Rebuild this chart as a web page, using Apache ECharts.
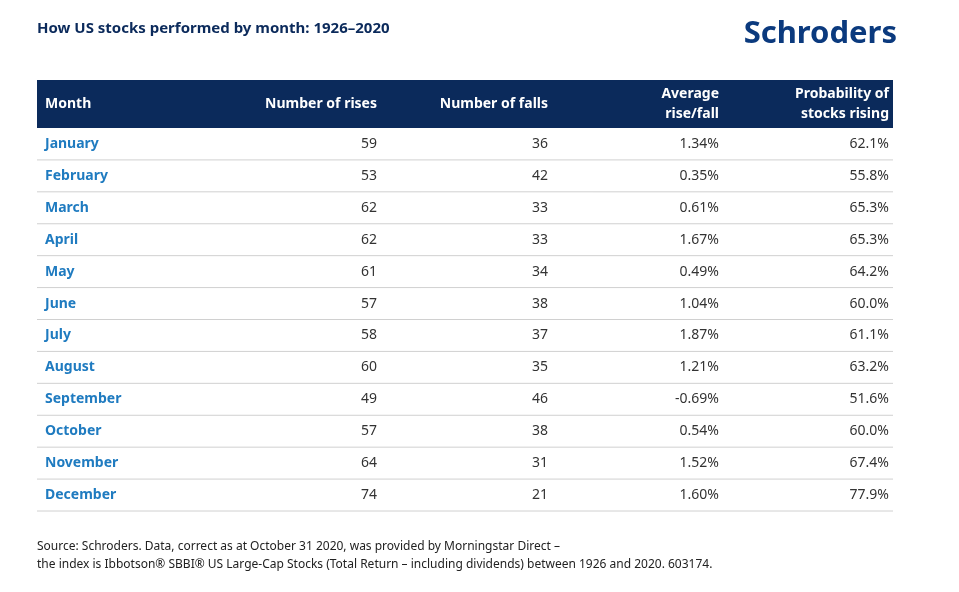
<!DOCTYPE html>
<html><head><meta charset="utf-8">
<script src="https://cdn.jsdelivr.net/npm/echarts@6/dist/echarts.min.js"></script>
<style>html,body{margin:0;background:#fff}#c{width:959px;height:592px}</style>
</head><body><div id="c"></div>
<script>
const months = ["January","February","March","April","May","June","July","August","September","October","November","December"];
const rises = [59,53,62,62,61,57,58,60,49,57,64,74];
const falls = [36,42,33,33,34,38,37,35,46,38,31,21];
const avgChange = ["1.34%","0.35%","0.61%","1.67%","0.49%","1.04%","1.87%","1.21%","-0.69%","0.54%","1.52%","1.60%"];
const probRising = ["62.1%","55.8%","65.3%","65.3%","64.2%","60.0%","61.1%","63.2%","51.6%","60.0%","67.4%","77.9%"];
const headers = ["Month","Number of rises","Number of falls","Average\nrise/fall","Probability of\nstocks rising"];

const F = "'Noto Sans','Open Sans',sans-serif";
const colRight = [340, 511, 682, 852]; // offsets from grid left for right-aligned cols
const chart = echarts.init(document.getElementById('c'));
chart.setOption({
  animation:false,
  grid:{left:37,right:66,top:128,bottom:81},
  xAxis:{type:'value',min:0,max:1,show:false},
  yAxis:{type:'category',data:months,inverse:true,show:false},
  graphic:[
    {type:'text',left:37,top:21,style:{text:'How US stocks performed by month: 1926–2020',font:'bold 15px '+F,fill:'#0b2a5b'}},
    {type:'text',right:62,top:19,style:{text:'Schroders',font:'bold 31px '+F,fill:'#0b3a7e'}},
    {type:'rect',shape:{x:37,y:80,width:856,height:48},style:{fill:'#0b2a5b'}},
    {type:'text',x:45,y:104,style:{text:headers[0],font:'bold 14px '+F,fill:'#fff',verticalAlign:'middle'}},
    ...headers.slice(1).map((h,i)=>({type:'text',x:37+colRight[i],y:104,style:{text:h,font:'bold 14px '+F,fill:'#fff',align:'right',verticalAlign:'middle',lineHeight:20}})),
    {type:'text',left:37,top:538,style:{text:'Source: Schroders. Data, correct as at October 31 2020, was provided by Morningstar Direct –\nthe index is Ibbotson® SBBI® US Large-Cap Stocks (Total Return – including dividends) between 1926 and 2020. 603174.',font:'12px '+F,fill:'#222',lineHeight:18}}
  ],
  series:[{
    type:'custom',
    data:months.map((m,i)=>[0,i]),
    renderItem:(params,api)=>{
      const i=api.value(1);
      const p=api.coord([0,i]);
      const band=api.size([0,1])[1];
      const cs=params.coordSys;
      const y=p[1];
      const vals=[rises[i],falls[i],avgChange[i],probRising[i]];
      const children=[
        {type:'text',x:cs.x+8,y:y,style:{text:months[i],font:'bold 14px '+F,fill:'#1f7bc0',verticalAlign:'middle'}},
        ...vals.map((v,k)=>({type:'text',x:cs.x+colRight[k],y:y,style:{text:String(v),font:'14px '+F,fill:'#333',align:'right',verticalAlign:'middle'}})),
        {type:'line',shape:{x1:cs.x,y1:y+band/2,x2:cs.x+cs.width,y2:y+band/2},style:{stroke:'#d0d0d0',lineWidth:1}}
      ];
      return {type:'group',children};
    }
  }]
});
</script></body></html>
